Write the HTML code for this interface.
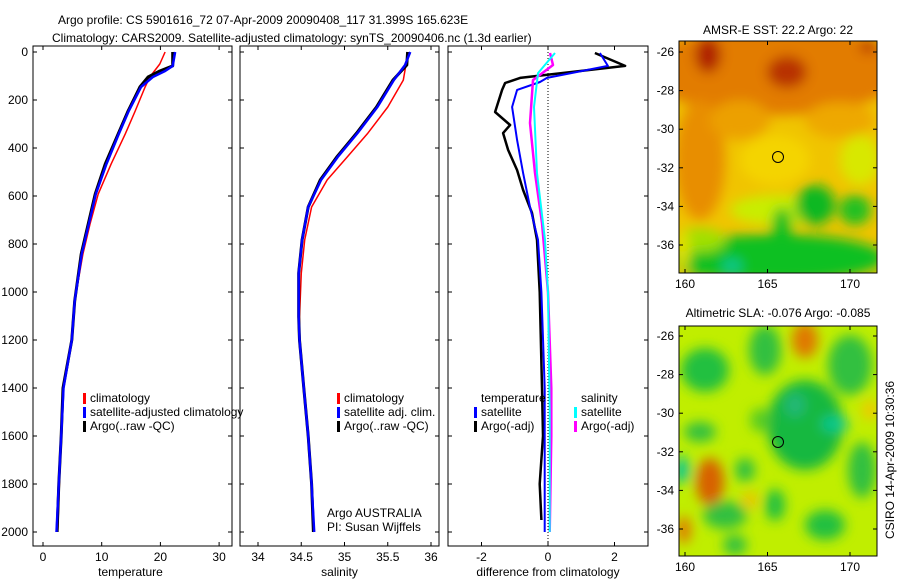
<!DOCTYPE html>
<html><head><meta charset="utf-8"><style>
html,body{margin:0;padding:0;background:#fff;}
svg{display:block;font-family:"Liberation Sans",sans-serif;}
text{font-size:12px;fill:#000;}
</style></head><body>
<svg id="c" width="900" height="580" viewBox="0 0 900 580">
<defs>
<filter id="bl" x="-20%" y="-20%" width="140%" height="140%"><feGaussianBlur stdDeviation="6"/></filter>
<clipPath id="cm1"><rect x="679" y="41" width="198" height="232"/></clipPath>
<clipPath id="cm2"><rect x="679" y="326" width="198" height="230"/></clipPath>
</defs>
<text x="58" y="24">Argo profile: CS 5901616_72 07-Apr-2009 20090408_117 31.399S 165.623E</text>
<text x="52" y="42">Climatology: CARS2009. Satellite-adjusted climatology: synTS_20090406.nc (1.3d earlier)</text>

<g clip-path="url(#cm1)">
<rect x="679" y="41" width="198" height="232" fill="#f0c400"/>
<g filter="url(#bl)">
<ellipse cx="775" cy="70" rx="130" ry="45" fill="#e27c00"/>
<ellipse cx="700" cy="160" rx="25" ry="60" fill="#e88e00"/>
<ellipse cx="740" cy="120" rx="30" ry="20" fill="#eca000"/>
<ellipse cx="840" cy="120" rx="35" ry="18" fill="#eea800"/>
<ellipse cx="708" cy="55" rx="13" ry="18" fill="#b02400"/>
<ellipse cx="787" cy="72" rx="20" ry="16" fill="#b83000"/>
<ellipse cx="868" cy="46" rx="8" ry="7" fill="#b83000"/>
<ellipse cx="775" cy="160" rx="35" ry="25" fill="#f4d400"/>
<ellipse cx="860" cy="160" rx="20" ry="25" fill="#d8e800"/>
<ellipse cx="780" cy="210" rx="50" ry="15" fill="#c8ee00"/>
<ellipse cx="815" cy="205" rx="20" ry="20" fill="#10b820"/>
<ellipse cx="855" cy="210" rx="16" ry="15" fill="#20c020"/>
<ellipse cx="775" cy="258" rx="110" ry="24" fill="#10c020"/>
<ellipse cx="700" cy="240" rx="25" ry="12" fill="#a0e000"/>
<ellipse cx="782" cy="225" rx="10" ry="18" fill="#10c020"/>
<ellipse cx="732" cy="266" rx="10" ry="7" fill="#10c890"/>
<ellipse cx="682" cy="250" rx="8" ry="20" fill="#e0e000"/>
</g>
<circle cx="778" cy="157" r="5.5" fill="none" stroke="#000" stroke-width="1"/>
</g>
<rect x="679" y="41" width="198" height="232" fill="none" stroke="#000"/>
<text x="778" y="34" text-anchor="middle">AMSR-E SST: 22.2 Argo: 22</text>

<g clip-path="url(#cm2)">
<rect x="679" y="326" width="198" height="230" fill="#c0ee00"/>
<g filter="url(#bl)">
<ellipse cx="705" cy="370" rx="24" ry="22" fill="#20c040"/>
<ellipse cx="765" cy="350" rx="16" ry="25" fill="#30c040"/>
<ellipse cx="805" cy="340" rx="13" ry="18" fill="#e07800"/>
<ellipse cx="850" cy="365" rx="22" ry="30" fill="#30c040"/>
<ellipse cx="805" cy="425" rx="38" ry="45" fill="#18b840"/>
<ellipse cx="835" cy="424" rx="14" ry="8" fill="#10c890"/>
<ellipse cx="795" cy="405" rx="10" ry="12" fill="#20b878"/>
<ellipse cx="710" cy="482" rx="14" ry="24" fill="#d86000"/>
<ellipse cx="700" cy="432" rx="16" ry="10" fill="#30c040"/>
<ellipse cx="682" cy="470" rx="8" ry="14" fill="#10c890"/>
<ellipse cx="684" cy="530" rx="7" ry="14" fill="#e07800"/>
<ellipse cx="725" cy="515" rx="22" ry="14" fill="#30c040"/>
<ellipse cx="735" cy="545" rx="12" ry="10" fill="#30c040"/>
<ellipse cx="775" cy="505" rx="10" ry="16" fill="#20c040"/>
<ellipse cx="825" cy="525" rx="20" ry="15" fill="#20c040"/>
<ellipse cx="862" cy="470" rx="14" ry="28" fill="#30c040"/>
<ellipse cx="745" cy="470" rx="10" ry="12" fill="#30c040"/>
<ellipse cx="750" cy="500" rx="8" ry="8" fill="#f0c000"/>
<ellipse cx="870" cy="410" rx="8" ry="10" fill="#f0c800"/>
<ellipse cx="760" cy="420" rx="10" ry="12" fill="#58cc20"/>
</g>
<circle cx="778" cy="442" r="5.5" fill="none" stroke="#000" stroke-width="1"/>
</g>
<rect x="679" y="326" width="198" height="230" fill="none" stroke="#000"/>
<text x="778" y="317" text-anchor="middle">Altimetric SLA: -0.076 Argo: -0.085</text>
<text transform="translate(894,460) rotate(-90)" text-anchor="middle">CSIRO 14-Apr-2009 10:30:36</text>

<g id="g1"></g>
</svg>
<script>
// ---- data ----
const depthTicks=[0,200,400,600,800,1000,1200,1400,1600,1800,2000];
const tempTicks=[0,10,20,30];
const salTicks=[34,34.5,35,35.5,36];
const diffTicks=[-2,0,2];
const latTicks=[-26,-28,-30,-32,-34,-36];
const lonTicks=[160,165,170];

const tArgoD=[0,58,79,104,146,246,342,467,592,717,842,1037,1200,1400,1600,1800,2000];
const tArgo=[22.1,22.1,19.9,17.9,16.5,14.5,12.8,10.6,8.9,7.7,6.5,5.4,4.9,3.4,3.1,2.7,2.4];
const tClimD=[0,50,104,146,246,342,467,592,717,842,1037,1200,1400,1600,1800,2000];
const tClim=[20.8,19.9,18.2,17.4,15.7,14.0,11.6,9.4,8.0,6.8,5.4,4.9,3.5,3.1,2.8,2.5];
const tSatD=[0,58,79,104,146,246,342,467,592,717,842,1037,1200,1400,1600,1800,2000];
const tSat=[22.5,22.1,20.8,18.7,16.7,14.6,12.9,10.8,9.0,7.8,6.6,5.4,4.9,3.5,3.1,2.7,2.3];

const sArgoD=[0,54,117,229,338,438,533,646,783,921,1104,1200,1400,1600,1800,2000];
const sArgo=[35.73,35.72,35.56,35.37,35.14,34.91,34.72,34.58,34.51,34.47,34.47,34.48,34.53,34.58,34.62,34.64];
const sClim=[35.73,35.71,35.68,35.50,35.27,35.03,34.80,34.62,34.54,34.50,34.48,34.48,34.53,34.58,34.62,34.64];
const sSat=[35.76,35.70,35.57,35.38,35.15,34.92,34.73,34.58,34.51,34.47,34.47,34.48,34.53,34.58,34.62,34.65];

const dTArgoD=[4,58,108,129,158,250,304,338,408,492,575,671,783,1000,1400,1600,1800,1950];
const dTArgo=[1.41,2.32,-0.84,-1.29,-1.38,-1.59,-1.14,-1.35,-1.2,-0.93,-0.75,-0.48,-0.33,-0.25,-0.18,-0.15,-0.25,-0.2];
const dTSatD=[4,58,108,125,158,229,367,504,646,783,1000,1400,1700,2000];
const dTSat=[1.56,1.8,-0.03,-0.24,-0.93,-1.08,-0.93,-0.75,-0.54,-0.3,-0.2,-0.1,-0.1,-0.1];
const dSSatD=[4,88,229,504,783,1000,1500,2000];
const dSSat=[0.21,-0.3,-0.42,-0.33,-0.09,0,0.05,0.05];
const dSArgoD=[4,54,117,296,504,713,1000,1400,1600,2000];
const dSArgo=[0.06,0.15,-0.45,-0.54,-0.39,-0.18,0,0.1,0.1,0.05];

// ---- axes ----
const NS='http://www.w3.org/2000/svg';
const root=document.getElementById('g1');
function el(tag,attrs,parent){const e=document.createElementNS(NS,tag);for(const k in attrs)e.setAttribute(k,attrs[k]);(parent||root).appendChild(e);return e;}
const yD=d=>52+d*0.24;
const panels=[
 {x0:33,x1:232,fx:v=>43+v*5.87,ticks:tempTicks,label:'temperature',name:'temperature'},
 {x0:240,x1:439,fx:v=>258+(v-34)*86.5,ticks:salTicks,label:'salinity',name:'salinity'},
 {x0:448,x1:648,fx:v=>548+v*33.25,ticks:diffTicks,label:'difference from climatology',name:'difference'}
];
panels.forEach((p,i)=>{
 const g=el('g',{});
 
 
 el('rect',{x:p.x0,y:46,width:p.x1-p.x0,height:500,fill:'none',stroke:'#000'},g);
 p.ticks.forEach(t=>{
  const x=p.fx(t);
  el('line',{x1:x,x2:x,y1:546,y2:542,stroke:'#000'},g);
  el('line',{x1:x,x2:x,y1:46,y2:50,stroke:'#000'},g);
  const tx=el('text',{x:x,y:561,'text-anchor':'middle'},g);tx.textContent=String(t);
  
  
 });
 depthTicks.forEach(d=>{
  const y=yD(d);
  el('line',{x1:p.x0,x2:p.x0+4,y1:y,y2:y,stroke:'#000'},g);
  el('line',{x1:p.x1,x2:p.x1-4,y1:y,y2:y,stroke:'#000'},g);
  if(i===0){const tx=el('text',{x:28,y:y+4,'text-anchor':'end'},g);tx.textContent=String(d);
   
   }
 });
 const xl=el('text',{x:(i==2?548:(p.x0+p.x1)/2-(i==0?2:0)),y:576,'text-anchor':'middle'},g);xl.textContent=p.label;
 
 
});
const zl=el('line',{x1:548,x2:548,y1:46,y2:546,stroke:'#000','stroke-dasharray':'1,2'});



function line(p,ds,vs,color,w,name){
 const pts=ds.map((d,k)=>p.fx(vs[k]).toFixed(1)+','+yD(d).toFixed(1)).join(' ');
 const e=el('polyline',{points:pts,fill:'none',stroke:color,'stroke-width':w,'stroke-linejoin':'round'});
 
 
}
line(panels[0],tClimD,tClim,'#f00',1.5,'temp-climatology-line');
line(panels[0],tArgoD,tArgo,'#000',3,'temp-argo-line');
line(panels[0],tSatD,tSat,'#00f',2.5,'temp-satellite-line');
line(panels[1],sArgoD,sClim,'#f00',1.5,'sal-climatology-line');
line(panels[1],sArgoD,sArgo,'#000',3,'sal-argo-line');
line(panels[1],sArgoD,sSat,'#00f',2.5,'sal-satellite-line');
line(panels[2],dTArgoD,dTArgo,'#000',2.5,'diff-temp-argo-line');
line(panels[2],dTSatD,dTSat,'#00f',2,'diff-temp-satellite-line');
line(panels[2],dSArgoD,dSArgo,'#f0f',2.5,'diff-sal-argo-line');
line(panels[2],dSSatD,dSSat,'#0ff',2,'diff-sal-satellite-line');

function mapAxes(y0,y1,latY){
 latTicks.forEach(l=>{const y=latY(l);
  el('line',{x1:679,x2:683,y1:y,y2:y,stroke:'#000'});el('line',{x1:877,x2:873,y1:y,y2:y,stroke:'#000'});
  const t=el('text',{x:674,y:y+4,'text-anchor':'end'});t.textContent=String(l);
  
  });
 lonTicks.forEach(l=>{const x=685+(l-160)*16.5;
  el('line',{x1:x,x2:x,y1:y1,y2:y1-4,stroke:'#000'});el('line',{x1:x,x2:x,y1:y0,y2:y0+4,stroke:'#000'});
  const t=el('text',{x:x,y:y1+15,'text-anchor':'middle'});t.textContent=String(l);
  
  });
}
mapAxes(41,273,l=>52+(-26-l)*19.3);
mapAxes(326,556,l=>336+(-26-l)*19.3);

function leg(x,y,color,txt,name){
 el('rect',{x:x-4,y:y-9,width:3,height:11,fill:color});
 const t=el('text',{x:x+3,y:y});t.textContent=txt;
 
 
}
leg(87,402,'#f00','climatology','legend-climatology');
leg(87,416,'#00f','satellite-adjusted climatology','legend-satellite-adjusted');
leg(87,430,'#000','Argo(..raw -QC)','legend-argo');
leg(341,402,'#f00','climatology','legend-sal-climatology');
leg(341,416,'#00f','satellite adj. clim.','legend-sal-satellite');
leg(341,430,'#000','Argo(..raw -QC)','legend-sal-argo');
const tt=el('text',{x:481,y:402});tt.textContent='temperature';


const st=el('text',{x:581,y:402});st.textContent='salinity';


leg(478,416,'#00f','satellite','legend-diff-temp-satellite');
leg(478,430,'#000','Argo(-adj)','legend-diff-temp-argo');
leg(578,416,'#0ff','satellite','legend-diff-sal-satellite');
leg(578,430,'#f0f','Argo(-adj)','legend-diff-sal-argo');
const a1=el('text',{x:327,y:517});a1.textContent='Argo AUSTRALIA';


const a2=el('text',{x:327,y:531});a2.textContent='PI: Susan Wijffels';


</script>
</body></html>
